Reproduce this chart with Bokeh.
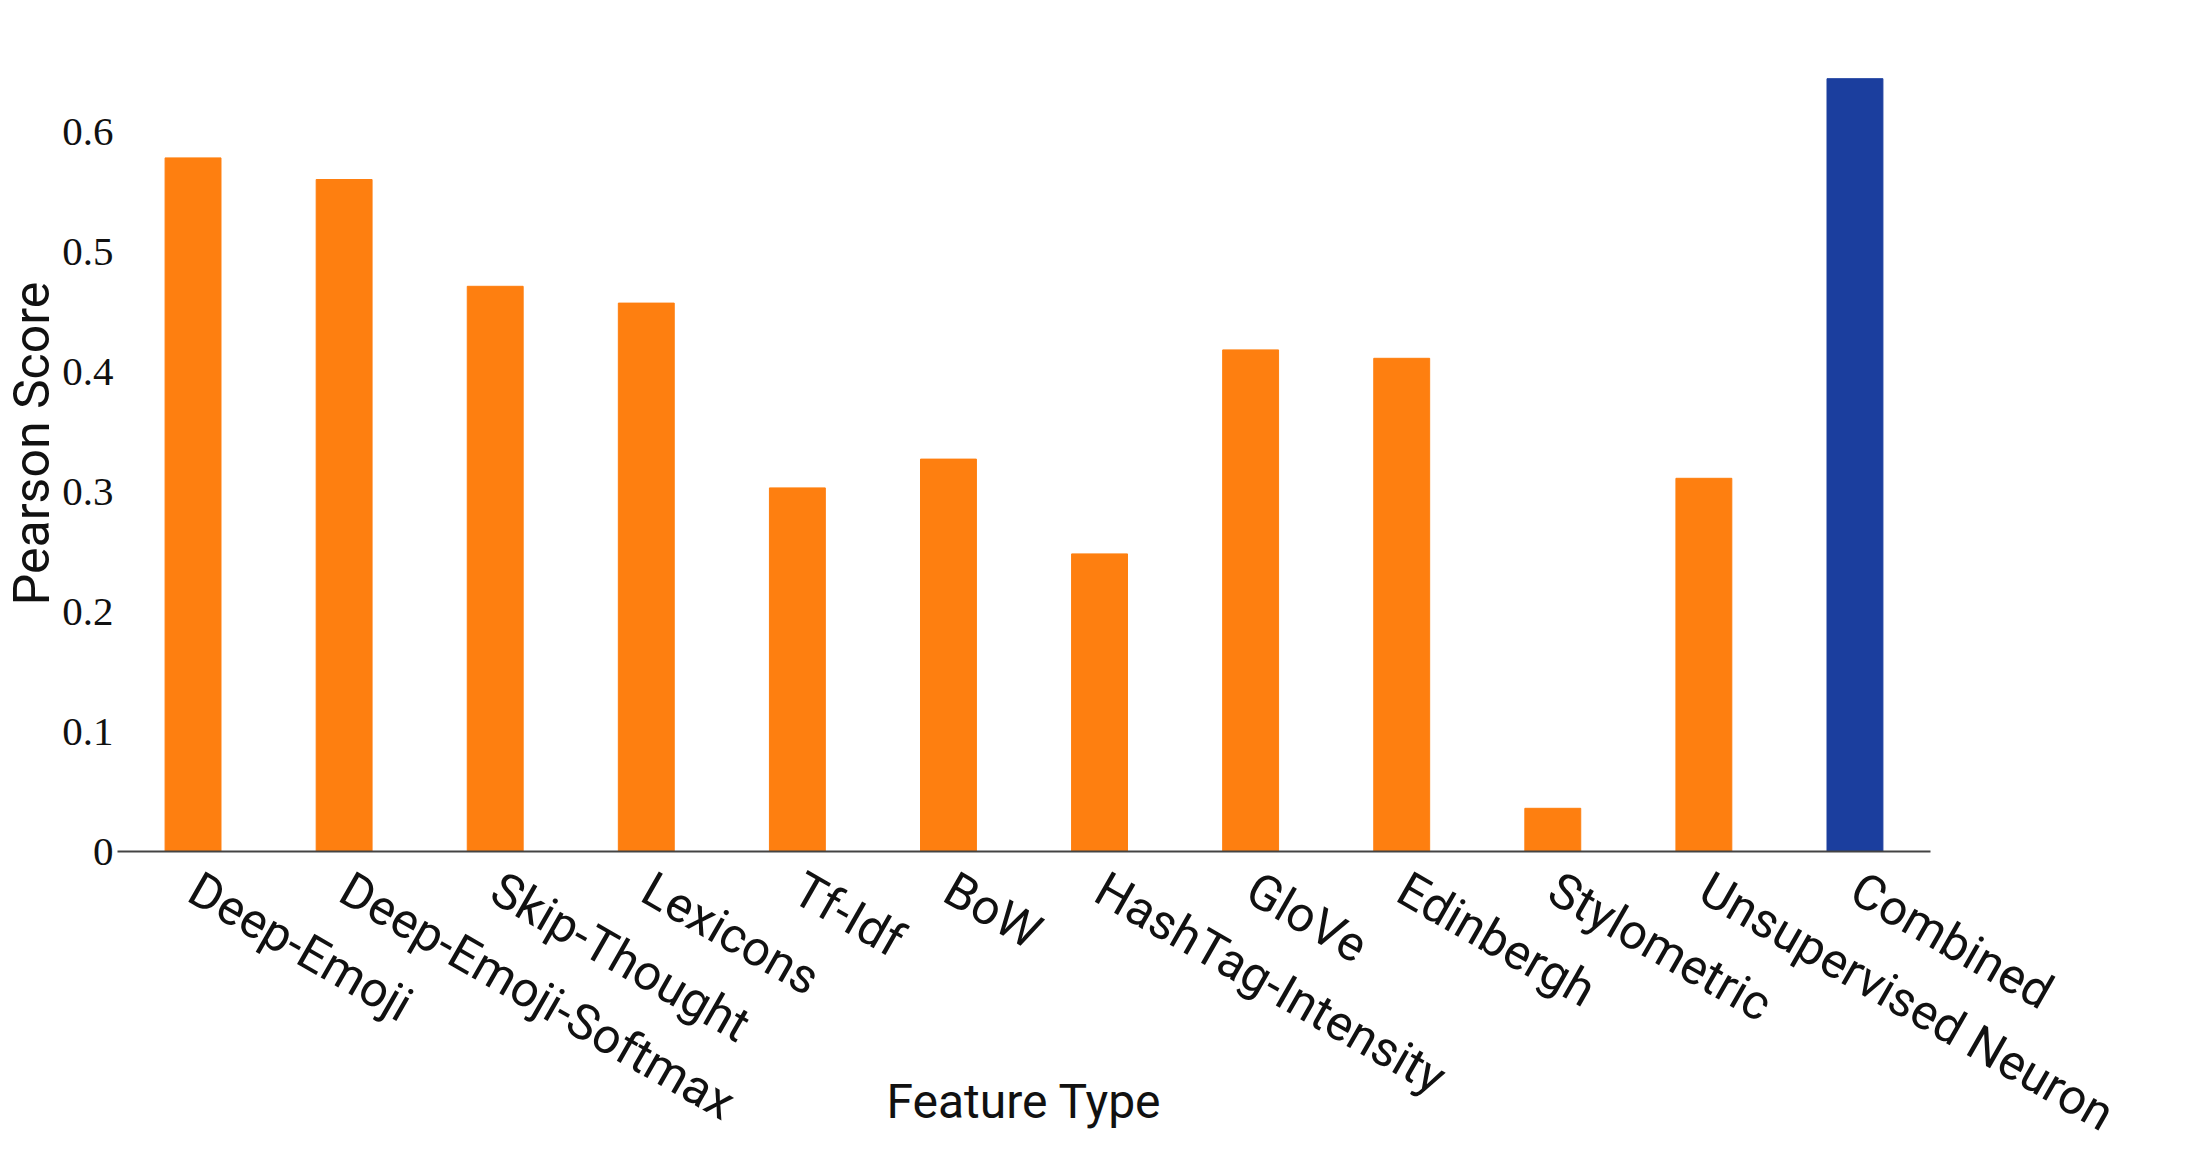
from bokeh.plotting import figure
from bokeh.models import ColumnDataSource, FactorRange, Range1d, FixedTicker
from bokeh.embed import file_html
from bokeh.resources import INLINE

categories = ["Deep-Emoji", "Deep-Emoji-Softmax", "Skip-Thought", "Lexicons", "Tf-Idf", "BoW",
              "HashTag-Intensity", "GloVe", "Edinbergh", "Stylometric", "Unsupervised Neuron", "Combined"]
scores = [0.578, 0.560, 0.471, 0.457, 0.303, 0.327, 0.248, 0.418, 0.411, 0.036, 0.311, 0.644]
highlight = "Combined"
ytick_values = [0, 0.1, 0.2, 0.3, 0.4, 0.5, 0.6]
ytick_labels = ["0", "0.1", "0.2", "0.3", "0.4", "0.5", "0.6"]
x_title = "Feature Type"
y_title = "Pearson Score"

ORANGE = "#fe7f10"
BLUE = "#1b3e9e"
colors = [BLUE if c == highlight else ORANGE for c in categories]

src = ColumnDataSource(dict(cat=categories, score=scores, color=colors))

p = figure(x_range=FactorRange(*categories), y_range=Range1d(0, 0.68),
           width=2176, height=1133, output_backend="svg", toolbar_location=None,
           min_border_left=0, min_border_right=246, min_border_top=35, min_border_bottom=0)
p.vbar(x="cat", top="score", width=0.37, color="color", source=src)

p.outline_line_color = None
p.xgrid.grid_line_color = None
p.ygrid.grid_line_color = None
p.x_range.range_padding = 0

# y axis
p.yaxis.ticker = FixedTicker(ticks=ytick_values)
p.yaxis.major_label_overrides = {v: l for v, l in zip(ytick_values, ytick_labels)}
p.yaxis.axis_line_color = None
p.yaxis.major_tick_line_color = None
p.yaxis.minor_tick_line_color = None
p.yaxis.major_tick_out = 0
p.yaxis.major_label_standoff = 4
p.yaxis.major_label_text_font = "Liberation Serif"
p.yaxis.major_label_text_font_size = "41px"
p.yaxis.major_label_text_color = "#111111"
p.yaxis.axis_label = y_title
p.yaxis.axis_label_text_font = "Roboto"
p.yaxis.axis_label_text_font_style = "normal"
p.yaxis.axis_label_text_font_size = "50px"
p.yaxis.axis_label_text_color = "#111111"
p.yaxis.axis_label_standoff = -2

# x axis
p.xaxis.axis_line_color = "#444444"
p.xaxis.axis_line_width = 2
p.xaxis.major_tick_line_color = None
p.xaxis.minor_tick_line_color = None
p.xaxis.major_tick_out = 0
p.xaxis.major_label_orientation = -0.52
p.xaxis.major_label_standoff = 34
p.xaxis.major_label_text_font = "Roboto"
p.xaxis.major_label_text_font_size = "49px"
p.xaxis.major_label_text_color = "#111111"
p.xaxis.axis_label = x_title
p.xaxis.axis_label_text_font = "Roboto"
p.xaxis.axis_label_text_font_style = "normal"
p.xaxis.axis_label_text_font_size = "48px"
p.xaxis.axis_label_text_color = "#111111"
p.xaxis.axis_label_standoff = -97

open("out.html", "w").write(file_html(p, INLINE))
